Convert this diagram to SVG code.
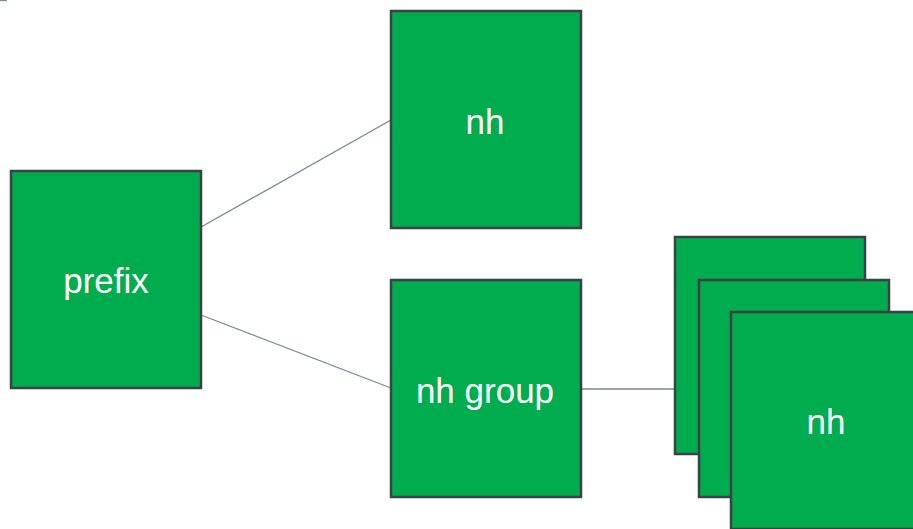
<svg xmlns="http://www.w3.org/2000/svg" width="913" height="529" viewBox="0 0 913 529">
<style>
.box{fill:#00ad4e;stroke:#3c4148;stroke-width:2.5}
.lbl{fill:#ffffff;font-family:"Liberation Sans",Arial,sans-serif;font-size:35px;text-anchor:middle}
.conn{stroke:#7b8792;stroke-width:1.3;fill:none}
</style>
<rect width="913" height="529" fill="#ffffff"/>
<g id="connectors">
<line class="conn" x1="0" y1="0.5" x2="7" y2="0.5"/>
<line class="conn" x1="201" y1="227" x2="391" y2="120"/>
<line class="conn" x1="201" y1="315" x2="391" y2="388"/>
<line class="conn" x1="581" y1="389" x2="699" y2="389"/>
</g>
<g id="prefix">
<rect class="box" x="11" y="171" width="190" height="217"/>
<text class="lbl" x="106" y="293">prefix</text>
</g>
<g id="nh-top">
<rect class="box" x="391" y="11" width="190" height="217"/>
<text class="lbl" x="485" y="134">nh</text>
</g>
<g id="nh-group">
<rect class="box" x="391" y="280" width="190" height="217"/>
<text class="lbl" x="485" y="403">nh group</text>
</g>
<g id="nh-stack-1">
<rect class="box" x="675" y="237" width="190" height="217"/>
</g>
<g id="nh-stack-2">
<rect class="box" x="699" y="280" width="190" height="217"/>
</g>
<g id="nh-stack-3">
<rect class="box" x="731" y="312" width="190" height="217"/>
<text class="lbl" x="826" y="434">nh</text>
</g>
</svg>
